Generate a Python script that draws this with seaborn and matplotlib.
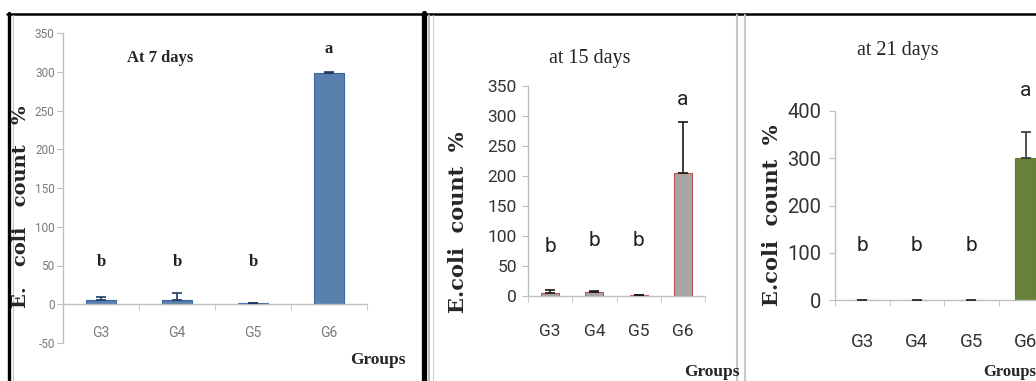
import numpy as np
import pandas as pd
import seaborn as sns
import matplotlib.pyplot as plt
from matplotlib.lines import Line2D

# données
groups = ['G3', 'G4', 'G5', 'G6']

day7_values = [5, 6, 1, 299]
day7_err = [5, 8, 0.5, 1]
day7_letters = ['b', 'b', 'b', 'a']
day7_letter_y = [55, 55, 55, 329]

day15_values = [5, 7, 2, 205]
day15_err = [5, 2, 0.5, 85]
day15_letters = ['b', 'b', 'b', 'a']
day15_letter_y = [82, 93, 93, 327]

day21_values = [0, 0, 0, 300]
day21_err = [0, 0, 0, 55]
day21_letters = ['b', 'b', 'b', 'a']
day21_letter_y = [116, 116, 116, 444]

sns.set_style('white')
plt.rcParams['font.family'] = ['Roboto', 'DejaVu Sans']
plt.rcParams['axes.unicode_minus'] = False

W, H = 1036, 381
fig = plt.figure(figsize=(W / 100, H / 100), dpi=100)


def px_axes(x0, y_top, x1, y_bot):
    return fig.add_axes([x0 / W, 1 - y_bot / H, (x1 - x0) / W, (y_bot - y_top) / H])


serif = 'Liberation Serif'
wide_serif = 'DejaVu Serif'
spine_col = '#BEBEBE'


def draw_panel(ax, values, err, letters, letter_y, face, edge, ecol, width,
               ytick_size, xtick_size, tick_col, xpad, ypad, letter_kw):
    df = pd.DataFrame({'group': groups, 'value': values})
    sns.barplot(data=df, x='group', y='value', color=face, width=width,
                edgecolor=edge, linewidth=0.8, ax=ax, zorder=2)
    x = np.arange(len(groups))
    ax.errorbar(x, values, yerr=[np.zeros(len(err)), err], fmt='none',
                ecolor=ecol, elinewidth=1.2, capsize=3.5, capthick=1.2, zorder=3)
    for xi, lt, ly in zip(x, letters, letter_y):
        ax.text(xi, ly, lt, ha='center', va='center', color='#222222',
                clip_on=False, **letter_kw)
    ax.set_xlim(-0.5, 3.5)
    ax.set_xlabel('')
    ax.set_ylabel('')
    for s in ['top', 'right']:
        ax.spines[s].set_visible(False)
    for s in ['left', 'bottom']:
        ax.spines[s].set_color(spine_col)
        ax.spines[s].set_linewidth(1.0)
    ax.set_xticks(x)
    ax.set_xticks(np.arange(-0.5, 4, 1), minor=True)
    ax.tick_params(axis='x', which='major', length=0, pad=xpad,
                   labelsize=xtick_size, labelcolor=tick_col)
    ax.tick_params(axis='x', which='minor', length=4, color=spine_col,
                   direction='out', bottom=True)
    ax.tick_params(axis='y', which='major', length=4, color=spine_col,
                   direction='out', left=True, pad=ypad,
                   labelsize=ytick_size, labelcolor=tick_col)


# --- At 7 days
ax1 = px_axes(63, 33, 367, 343)
draw_panel(ax1, day7_values, day7_err, day7_letters, day7_letter_y,
           '#4A7EBB', '#3A66A0', '#1F3A66', 0.39, 8.5, 10, '#7A7A7A', 16, 2,
           dict(family=serif, weight='bold', fontsize=12))
ax1.set_ylim(-50, 350)
ax1.set_yticks(np.arange(-50, 351, 50))
ax1.spines['bottom'].set_position(('data', 0))
fig.text(160 / W, 1 - 58 / H, 'At 7 days', family=serif, weight='bold',
         fontsize=12, ha='center', va='center')
fig.text(21 / W, 1 - 207 / H, 'E.   coli   count   %', family=wide_serif,
         weight='bold', fontsize=14, ha='center', va='center', rotation=90)
fig.text(378 / W, 1 - 360 / H, 'Groups', family=serif, weight='bold',
         fontsize=12.5, ha='center', va='center')

# --- at 15 days
ax2 = px_axes(528, 86, 705, 296)
draw_panel(ax2, day15_values, day15_err, day15_letters, day15_letter_y,
           '#A6A6A6', '#C0504D', '#1A1A1A', 0.41, 12.5, 12.5, '#333333', 20, 4,
           dict(fontsize=15))
ax2.set_ylim(0, 350)
ax2.set_yticks(np.arange(0, 351, 50))
fig.text(590 / W, 1 - 58 / H, 'at 15 days', family=serif,
         fontsize=14.5, ha='center', va='center')
fig.text(458 / W, 1 - 222 / H, 'E.coli  count  %', family=wide_serif,
         weight='bold', fontsize=15, ha='center', va='center', rotation=90)
fig.text(712 / W, 1 - 372 / H, 'Groups', family=serif, weight='bold',
         fontsize=12.5, ha='center', va='center')

# --- at 21 days
ax3 = px_axes(835, 111, 1053, 300)
draw_panel(ax3, day21_values, day21_err, day21_letters, day21_letter_y,
           '#6A8D2F', '#5E7F28', '#333333', 0.39, 14.5, 13.5, '#333333', 24, 6,
           dict(fontsize=15))
ax3.set_ylim(0, 400)
ax3.set_yticks(np.arange(0, 401, 100))
fig.text(898 / W, 1 - 50 / H, 'at 21 days', family=serif,
         fontsize=14.5, ha='center', va='center')
fig.text(772 / W, 1 - 215 / H, 'E.coli  count  %', family=wide_serif,
         weight='bold', fontsize=15, ha='center', va='center', rotation=90)
fig.text(1010 / W, 1 - 372 / H, 'Groups', family=serif, weight='bold',
         fontsize=12, ha='center', va='center')


# cadres des images
def fline(x0, y0, x1, y1, col, lw):
    fig.add_artist(Line2D([x0 / W, x1 / W], [1 - y0 / H, 1 - y1 / H],
                          color=col, linewidth=lw, transform=fig.transFigure))


fline(7, 13.5, W, 13.5, 'black', 1.8)
fline(8.5, 13, 8.5, H, 'black', 2.4)
fline(12.5, 15, 12.5, H, '#C8C8C8', 0.8)
fline(423.5, 13, 423.5, H, 'black', 3.8)
fline(429, 15, 429, H, '#B0B0B0', 1.2)
fline(432.5, 15, 432.5, H, '#D0D0D0', 0.8)
fline(736.5, 15, 736.5, H, '#C8C8C8', 1.5)
fline(744.5, 15, 744.5, H, '#C8C8C8', 1.5)

fig.savefig('out.png', dpi=100)
